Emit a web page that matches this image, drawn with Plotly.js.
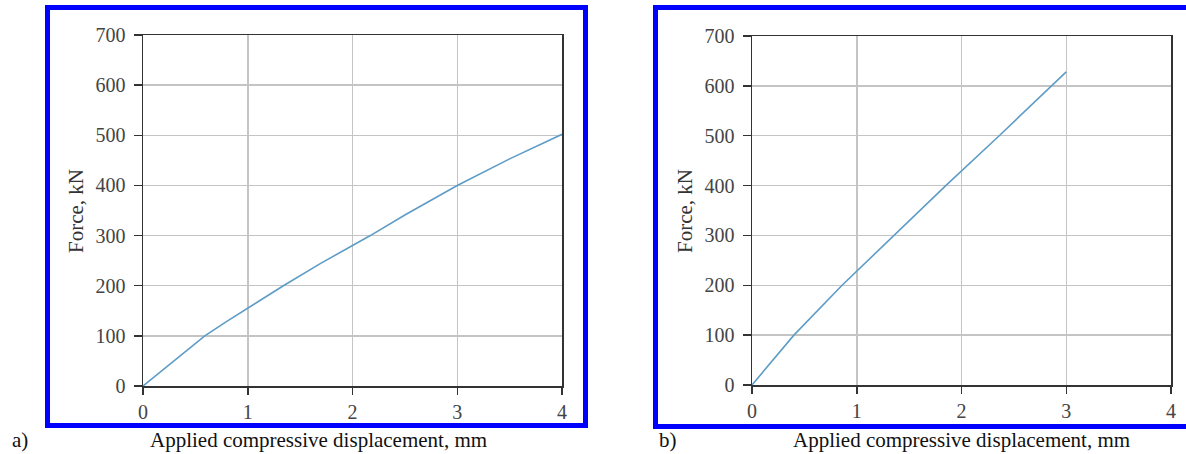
<!DOCTYPE html>
<html>
<head>
<meta charset="utf-8">
<script src="https://cdn.plot.ly/plotly-3.0.1.min.js"></script>
<style>html,body{margin:0;padding:0;background:#fff;}#chart{width:1186px;height:454px;}</style>
</head>
<body>
<div id="chart"></div>
<script>
// Panel a) : force vs displacement
const dispA = [0, 0.3, 0.59, 0.8, 1.0, 1.34, 1.7, 2.0, 2.17, 2.5, 3.0, 3.5, 4.0];
const forceA = [0, 51, 100, 129, 155, 200, 245, 280, 300, 341, 400, 453, 502];
// Panel b) : force vs displacement
const dispB = [0, 0.40, 0.86, 1.35, 1.85, 2.36, 2.86, 3.0];
const forceB = [0, 100, 200, 300, 400, 500, 600, 628];

const xTicks = [0, 1, 2, 3, 4];
const yTicks = [0, 100, 200, 300, 400, 500, 600, 700];
const xTitle = "Applied compressive displacement, mm";
const yTitle = "Force, kN";
const panelLabels = ["a)", "b)"];

const W = 1186, H = 454;
const px = v => v / W;
const py = v => 1 - v / H;

const lineColor = "#5e9cc6";
const serif = "Liberation Serif, Times New Roman, serif";

function axisX(domain, anchor) {
  return {
    domain: domain, anchor: anchor, range: [0, 4],
    tickvals: xTicks, ticktext: xTicks.map(String),
    ticks: "outside", ticklen: 7, tickwidth: 1.5, tickcolor: "#333",
    showline: true, linecolor: "#333", linewidth: 1.5, mirror: true,
    showgrid: true, gridcolor: "#c4c4c4", gridwidth: 1.5,
    zeroline: false, fixedrange: true,
    tickfont: {family: serif, size: 20, color: "#444"}
  };
}
function axisY(domain, anchor) {
  return {
    domain: domain, anchor: anchor, range: [0, 700],
    tickvals: yTicks, ticktext: yTicks.map(String),
    ticks: "outside", ticklen: 8, tickwidth: 1.5, tickcolor: "#333",
    ticklabelstandoff: 4,
    showline: true, linecolor: "#333", linewidth: 1.5, mirror: true,
    showgrid: true, gridcolor: "#c4c4c4", gridwidth: 1.5,
    zeroline: false, fixedrange: true,
    tickfont: {family: serif, size: 20, color: "#444"}
  };
}

const traces = [
  {x: dispA, y: forceA, xaxis: "x", yaxis: "y", mode: "lines", line: {color: lineColor, width: 1.6}, showlegend: false, hoverinfo: "skip"},
  {x: dispB, y: forceB, xaxis: "x2", yaxis: "y2", mode: "lines", line: {color: lineColor, width: 1.6}, showlegend: false, hoverinfo: "skip"}
];

const layout = {
  width: W, height: H,
  margin: {l: 0, r: 0, t: 0, b: 0},
  paper_bgcolor: "#fff", plot_bgcolor: "#fff",
  showlegend: false,
  xaxis: axisX([px(143), px(562)], "y"),
  yaxis: axisY([py(386), py(35)], "x"),
  xaxis2: axisX([px(752), px(1171)], "y2"),
  yaxis2: axisY([py(385), py(36)], "x2"),
  shapes: [
    {type: "rect", xref: "paper", yref: "paper", x0: px(47.5), x1: px(585.5), y0: py(425.5), y1: py(7.5), line: {color: "#0000ff", width: 5}, fillcolor: "rgba(0,0,0,0)", layer: "above"},
    {type: "rect", xref: "paper", yref: "paper", x0: px(655.5), x1: px(1200), y0: py(426.5), y1: py(7.5), line: {color: "#0000ff", width: 5}, fillcolor: "rgba(0,0,0,0)", layer: "above"}
  ],
  annotations: [
    {xref: "paper", yref: "paper", x: px(318.5), y: py(440), text: xTitle, showarrow: false, xanchor: "center", yanchor: "middle", font: {family: serif, size: 21, color: "#111"}},
    {xref: "paper", yref: "paper", x: px(961), y: py(440), text: xTitle, showarrow: false, xanchor: "center", yanchor: "middle", font: {family: serif, size: 21, color: "#111"}},
    {xref: "paper", yref: "paper", x: px(10), y: py(440), text: panelLabels[0], showarrow: false, xanchor: "left", yanchor: "middle", font: {family: serif, size: 21, color: "#111"}},
    {xref: "paper", yref: "paper", x: px(657), y: py(440), text: panelLabels[1], showarrow: false, xanchor: "left", yanchor: "middle", font: {family: serif, size: 21, color: "#111"}},
    {xref: "paper", yref: "paper", x: px(76), y: py(211), text: yTitle, showarrow: false, textangle: -90, xanchor: "center", yanchor: "middle", font: {family: serif, size: 21, color: "#333"}},
    {xref: "paper", yref: "paper", x: px(685), y: py(211), text: yTitle, showarrow: false, textangle: -90, xanchor: "center", yanchor: "middle", font: {family: serif, size: 21, color: "#333"}}
  ]
};

Plotly.newPlot("chart", traces, layout, {staticPlot: true, displayModeBar: false});
</script>
</body>
</html>
